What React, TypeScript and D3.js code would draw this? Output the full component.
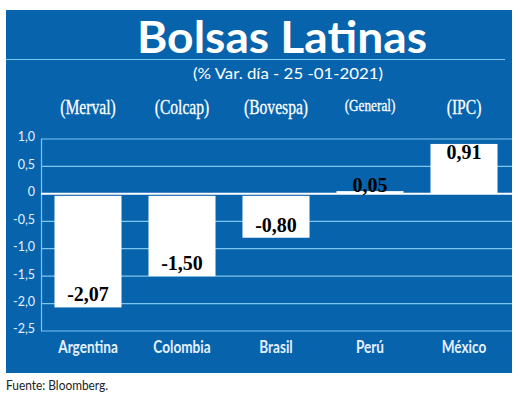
import * as d3 from "d3";

// chart data
const countries = ["Argentina", "Colombia", "Brasil", "Perú", "México"];
const indices = ["(Merval)", "(Colcap)", "(Bovespa)", "(General)", "(IPC)"];
const changes = [-2.07, -1.5, -0.8, 0.05, 0.91];
const tickValues = [1, 0.5, 0, -0.5, -1, -1.5, -2, -2.5];

const W = 520;
const H = 404;
const BLUE = "#0863ad";
const GRID = "#7cc6f0";
const LIGHT = "#e4f1ff";

const fmt = (v: number, digits: number) =>
  v === 0 ? "0" : d3.format(`.${digits}f`)(v).replace(".", ",").replace("−", "-");

const App = () => {
  // scales
  const x = d3
    .scaleBand<string>()
    .domain(countries)
    .range([41, 511])
    .paddingInner(0.287)
    .paddingOuter(0.1435);
  const y = d3.scaleLinear().domain([-2.5, 1]).range([331, 139]);
  const y0 = y(0);

  return (
    <svg
      width={W}
      height={H}
      style={{ position: "absolute", left: 0, top: 0, background: "#fff" }}
    >
      {/* panel */}
      <rect x={6} y={10} width={506} height={363} fill={BLUE} />
      <line x1={6} x2={505} y1={59.5} y2={59.5} stroke={GRID} strokeWidth={1.2} />

      <text
        x={282}
        y={53}
        textAnchor="middle"
        fill="#fff"
        fontFamily="Lato, 'Open Sans', sans-serif"
        fontWeight="bold"
        fontSize={44}
        textLength={290}
        lengthAdjust="spacingAndGlyphs"
      >
        Bolsas Latinas
      </text>
      <text
        x={288}
        y={79}
        textAnchor="middle"
        fill="#fff"
        fontFamily="Lato, 'Open Sans', sans-serif"
        fontSize={16}
        textLength={190}
        lengthAdjust="spacingAndGlyphs"
      >
        (% Var. día - 25 -01-2021)
      </text>

      {/* index names */}
      {indices.map((d, i) => (
        <g
          key={d}
          transform={`translate(${x(countries[i])! + x.bandwidth() / 2},${i === 3 ? 111 : 114}) scale(0.78,1)`}
        >
          <text
            textAnchor="middle"
            fill="#fff"
            fontFamily="'Liberation Serif', serif"
            fontSize={i === 3 ? 17 : 20}
            stroke="#fff"
            strokeWidth={0.3}
          >
            {d}
          </text>
        </g>
      ))}

      {/* grid */}
      {tickValues.map((t) => (
        <g key={t}>
          {t !== 0 && (
            <line x1={41} x2={512} y1={y(t)} y2={y(t)} stroke={GRID} strokeWidth={1.2} />
          )}
          <text
            x={35}
            y={y(t) - 2}
            dy="0.35em"
            textAnchor="end"
            fill={LIGHT}
            fontFamily="Lato, 'Open Sans', sans-serif"
            fontSize={12.5}
          >
            {fmt(t, 1)}
          </text>
        </g>
      ))}
      <line x1={41.5} x2={41.5} y1={y(1)} y2={y(-2.5)} stroke={GRID} strokeWidth={1.2} />

      {/* bars */}
      {changes.map((v, i) => {
        const bx = x(countries[i])!;
        const top = v >= 0 ? y(v) : y0 + 2;
        const h = v >= 0 ? y0 - y(v) : y(v) - y0 - 2;
        return <rect key={i} x={bx} y={top} width={x.bandwidth()} height={h} fill="#fff" />;
      })}
      <line x1={41} x2={512} y1={y0} y2={y0} stroke="#fff" strokeWidth={2} />

      {/* value labels */}
      {changes.map((v, i) => {
        const cx = x(countries[i])! + x.bandwidth() / 2;
        let ly: number;
        if (v < 0) ly = y(v) - 6;
        else if (y0 - y(v) > 20) ly = y(v) + 15;
        else ly = y(v) + 1;
        return (
          <text
            key={i}
            x={cx}
            y={ly}
            textAnchor="middle"
            fill="#000"
            fontFamily="'Liberation Serif', serif"
            fontWeight="bold"
            fontSize={20}
          >
            {fmt(v, 2)}
          </text>
        );
      })}

      {/* country names */}
      {countries.map((c) => (
        <g key={c} transform={`translate(${x(c)! + x.bandwidth() / 2},353) scale(0.8,1)`}>
          <text
            textAnchor="middle"
            fill={LIGHT}
            fontFamily="Lato, 'Open Sans', sans-serif"
            fontWeight="bold"
            fontSize={17}
          >
            {c}
          </text>
        </g>
      ))}

      <g transform="translate(6,390) scale(0.85,1)">
        <text fill="#222" fontFamily="Lato, 'Open Sans', sans-serif" fontSize={14}>
          Fuente: Bloomberg.
        </text>
      </g>
    </svg>
  );
};

export default App;
